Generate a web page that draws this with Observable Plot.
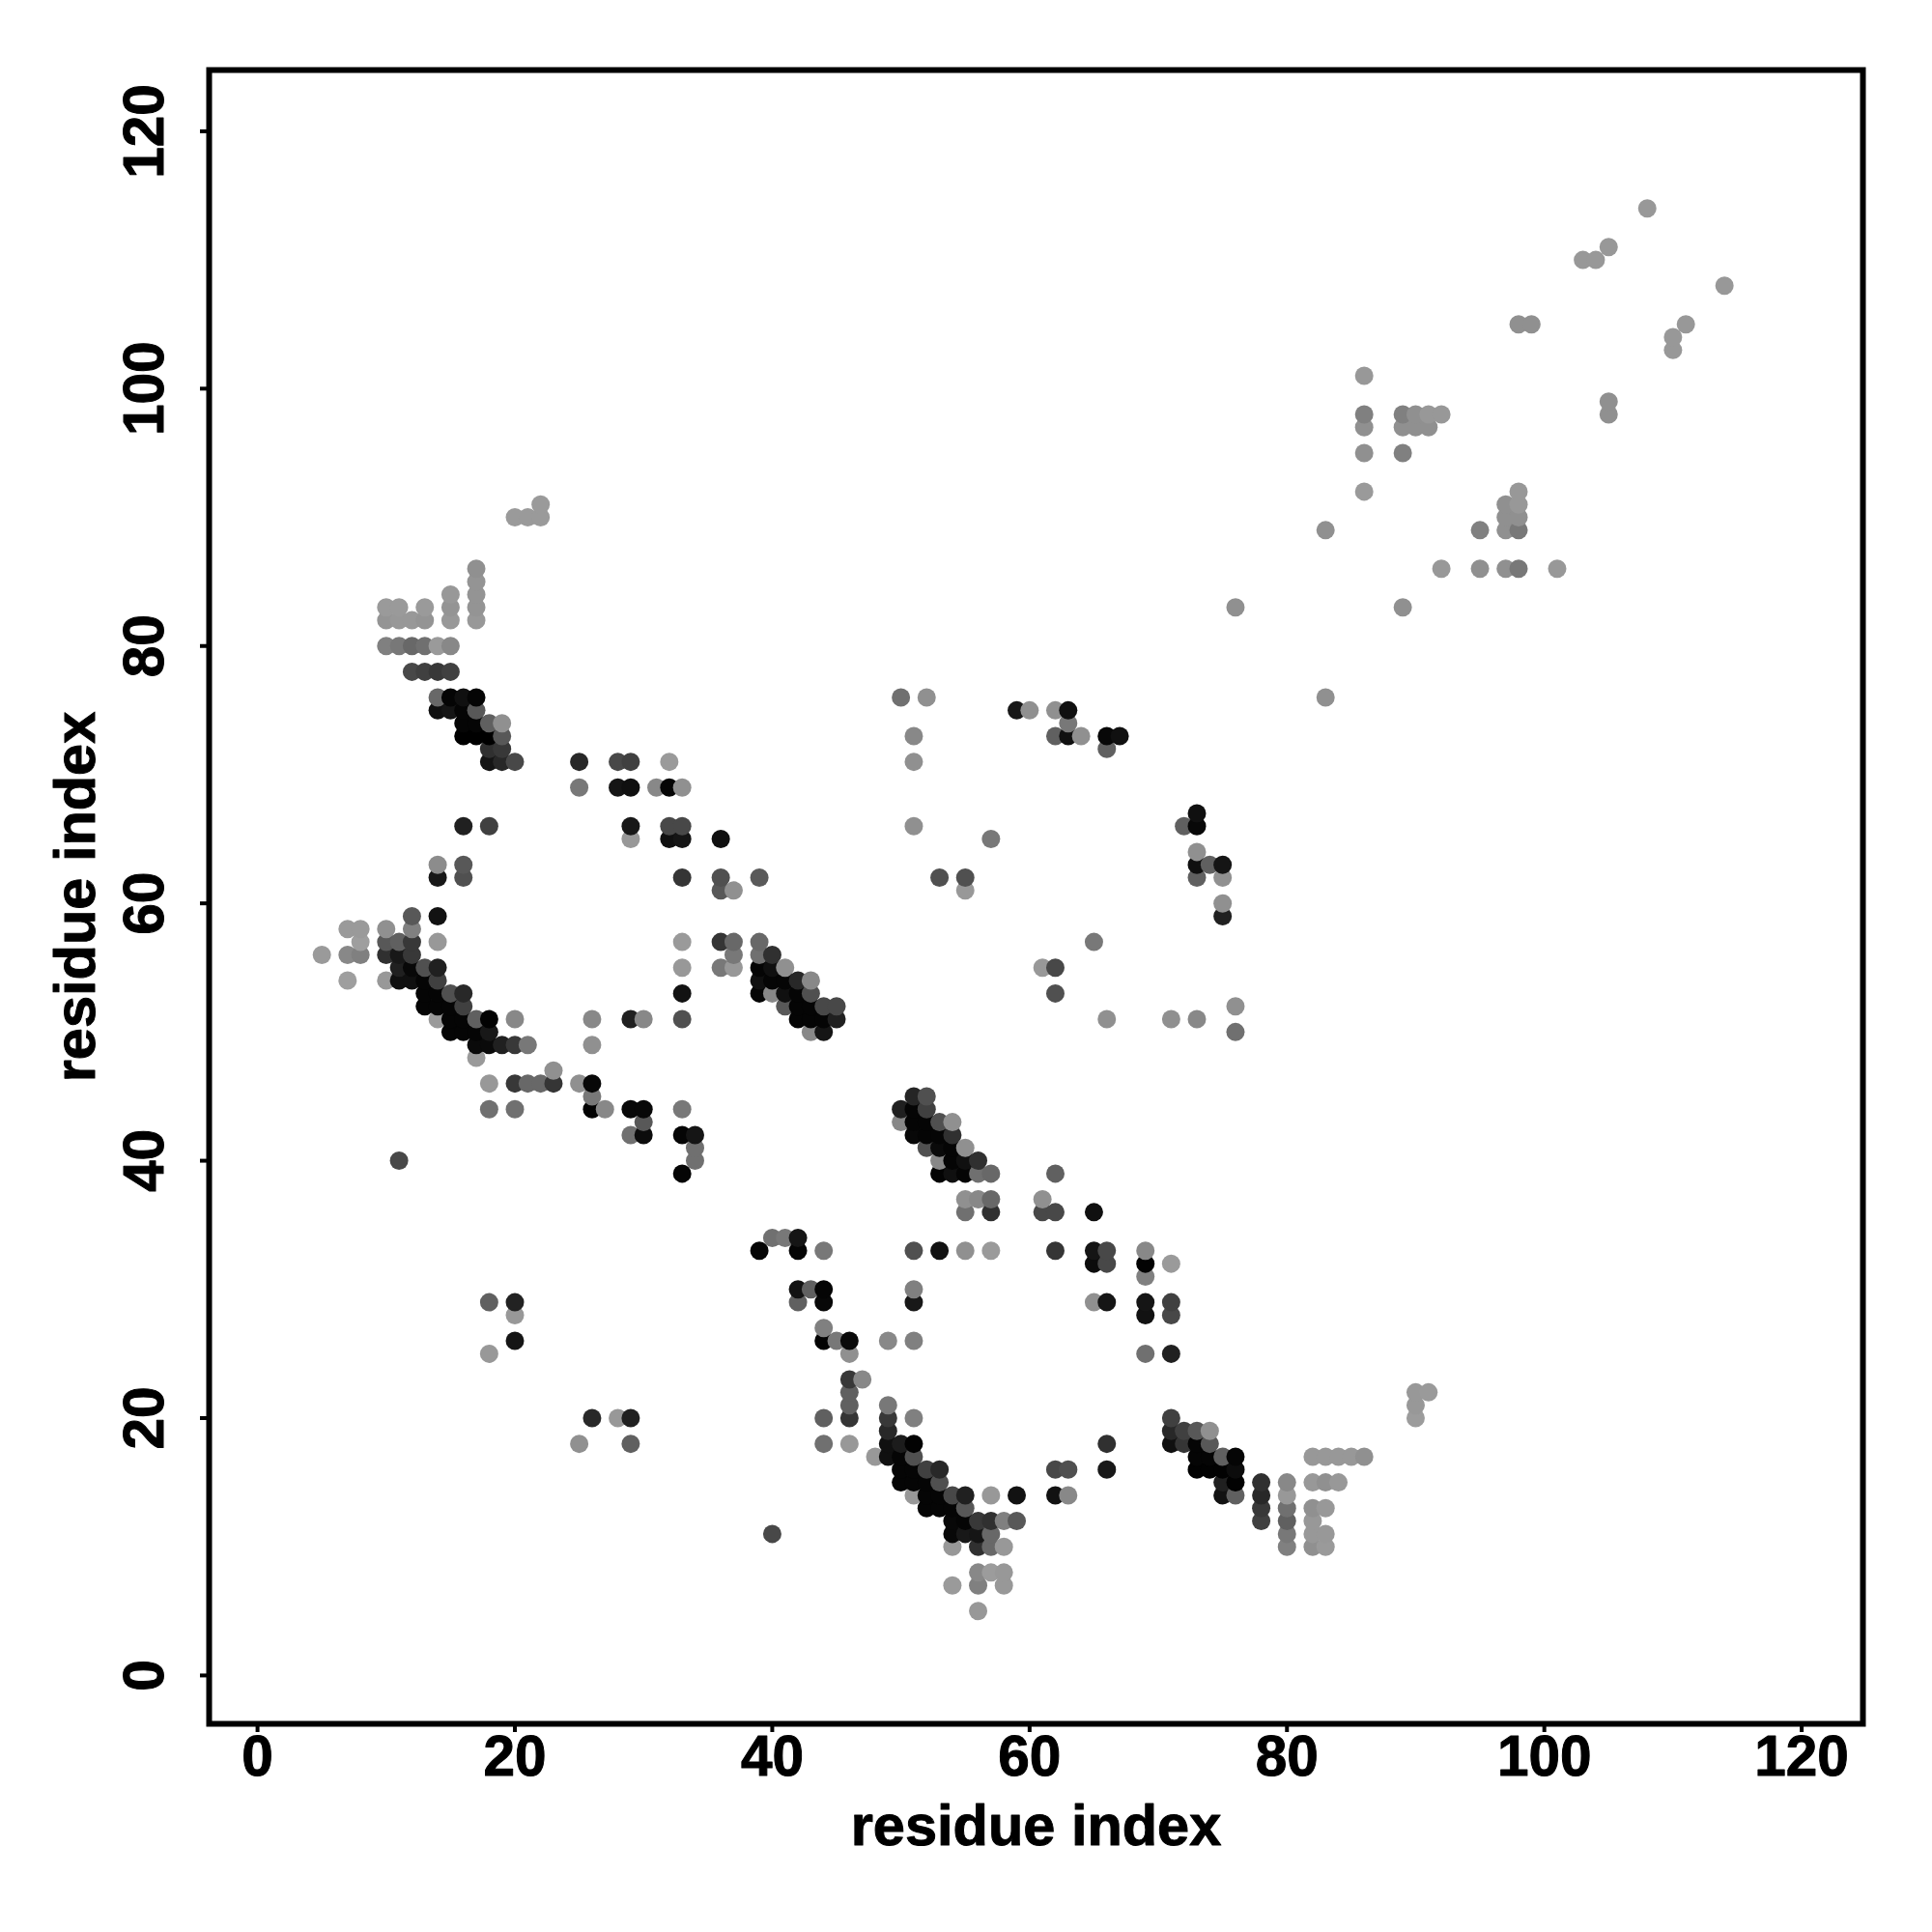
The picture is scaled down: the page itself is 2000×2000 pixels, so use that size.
<!DOCTYPE html>
<html>
<head>
<meta charset="utf-8">
<script src="https://cdn.jsdelivr.net/npm/d3@7"></script>
<script src="https://cdn.jsdelivr.net/npm/@observablehq/plot@0.6"></script>
<style>
html,body{margin:0;padding:0;background:#fff}
svg{display:block;max-width:none}
</style>
</head>
<body>
<div id="chart"></div>
<script>
// contacts as [residue i, residue j, grey level 0-255]
const upperContacts = [
[108,114,0x98],[105,111,0x98],[103,110,0x98],[104,110,0x98],[114,108,0x98],[98,105,0x90],[99,105,0x90],[111,105,0x98],[110,104,0x98],[110,103,0x98],
[86,101,0x98],[105,99,0x90],[105,98,0x90],[86,98,0x80],[89,98,0x80],[90,98,0x90],[91,98,0x98],[92,98,0x98],
[86,97,0x90],[89,97,0x90],[90,97,0x90],[91,97,0x90],[86,95,0x90],[89,95,0x80],[86,92,0x9a],[98,92,0x98],[97,91,0x90],[98,91,0x98],[97,90,0x90],[98,90,0x90],
[83,89,0x90],[95,89,0x80],[97,89,0x90],[98,89,0x78],[92,86,0x98],[95,86,0x90],[97,86,0x90],[98,86,0x78],[101,86,0x98],[89,83,0x90],[76,83,0x90],[83,76,0x90],
[20,90,0x9a],[21,90,0x9a],[22,90,0x9a],[22,91,0x9a],
[17,86,0x90],[17,85,0x94],[17,84,0x94],[17,83,0x94],[17,82,0x98],[15,84,0x98],[15,83,0x94],[15,82,0x98],
[10,83,0x9a],[11,83,0x9a],[13,83,0x9a],[10,82,0x94],[11,82,0x98],[12,82,0x98],[13,82,0x94],
[10,80,0x80],[11,80,0x78],[12,80,0x68],[13,80,0x70],[14,80,0x9a],[15,80,0x88],
[12,78,0x48],[13,78,0x40],[14,78,0x38],[15,78,0x40],
[14,76,0x68],[15,76,0x05],[16,76,0x10],[17,76,0x05],[50,76,0x70],[52,76,0x90],
[14,75,0x10],[15,75,0x15],[16,75,0x05],[17,75,0x58],[59,75,0x18],[60,75,0x90],[62,75,0x90],[63,75,0x10],
[16,74,0x05],[17,74,0x05],[18,74,0x60],[19,74,0x90],[63,74,0x78],
[16,73,0x00],[17,73,0x00],[18,73,0x00],[19,73,0x58],[51,73,0x88],[62,73,0x60],[63,73,0x10],[64,73,0x90],[66,73,0x08],[67,73,0x10],
[18,72,0x30],[19,72,0x38],[66,72,0x60],
[18,71,0x15],[19,71,0x28],[20,71,0x48],[25,71,0x28],[28,71,0x48],[29,71,0x40],[32,71,0x9a],[51,71,0x90]
];
const middleContacts = [
[25,69,0x78],[28,69,0x15],[29,69,0x10],[31,69,0x88],[32,69,0x05],[33,69,0x90],
[73,67,0x10],[16,66,0x20],[18,66,0x40],[29,66,0x18],[32,66,0x48],[33,66,0x48],[51,66,0x90],[72,66,0x60],[73,66,0x08],
[29,65,0x98],[32,65,0x10],[33,65,0x15],[36,65,0x10],[57,65,0x78],[73,64,0x90],
[14,63,0x8c],[16,63,0x58],[73,63,0x10],[74,63,0x60],[75,63,0x15],
[14,62,0x18],[16,62,0x50],[33,62,0x35],[36,62,0x50],[39,62,0x5a],[53,62,0x50],[55,62,0x50],[73,62,0x60],[75,62,0x90],
[36,61,0x58],[37,61,0x90],[55,61,0x98],[75,60,0x90],[12,59,0x58],[14,59,0x12],[75,59,0x20],
[7,58,0x9a],[8,58,0x9a],[10,58,0x90],[12,58,0x80],
[8,57,0x9e],[10,57,0x58],[11,57,0x60],[12,57,0x38],[14,57,0x98],[33,57,0x9a],[36,57,0x35],[37,57,0x68],[39,57,0x68],[65,57,0x78],
[5,56,0x9a],[7,56,0x88],[8,56,0x80],[10,56,0x30],[11,56,0x18],[12,56,0x38],[37,56,0x78],[39,56,0x70],[40,56,0x30],
[11,55,0x20],[12,55,0x08],[13,55,0x50],[14,55,0x20],[33,55,0x98],[36,55,0x78],[37,55,0x98],[39,55,0x05],[40,55,0x10],[41,55,0x90],[61,55,0x98],[62,55,0x48],
[7,54,0x9e],[10,54,0x98],[11,54,0x10],[12,54,0x10],[13,54,0x05],[14,54,0x40],[39,54,0x10],[40,54,0x05],[41,54,0x05],[42,54,0x28],[43,54,0x88],
[13,53,0x05],[14,53,0x05],[15,53,0x50],[16,53,0x28],[33,53,0x12],[39,53,0x05],[40,53,0x88],[41,53,0x10],[42,53,0x05],[43,53,0x50],[62,53,0x50],
[13,52,0x05],[14,52,0x05],[15,52,0x05],[16,52,0x40],[41,52,0x58],[42,52,0x05],[43,52,0x05],[44,52,0x48],[45,52,0x48],[76,52,0x90],
[14,51,0x9a],[15,51,0x05],[16,51,0x05],[17,51,0x60],[18,51,0x02],[20,51,0x88],[26,51,0x88],[29,51,0x20],[30,51,0x88],[33,51,0x50],[42,51,0x05],[43,51,0x05],[44,51,0x05],[45,51,0x20],[66,51,0x90],[71,51,0x90],[73,51,0x88],
[15,50,0x05],[16,50,0x05],[17,50,0x05],[18,50,0x18],[43,50,0x88],[44,50,0x15],[76,50,0x70],
[17,49,0x0a],[18,49,0x0a],[19,49,0x20],[20,49,0x38],[21,49,0x78],[26,49,0x90],[17,48,0x9a],[23,47,0x90],
[18,46,0x98],[20,46,0x38],[21,46,0x68],[22,46,0x68],[23,46,0x35],[25,46,0x90],[26,46,0x08],
[26,45,0x78],[51,45,0x25],[52,45,0x50],
[18,44,0x70],[20,44,0x70],[26,44,0x02],[27,44,0x88],[29,44,0x08],[30,44,0x08],[33,44,0x78],[50,44,0x20],[51,44,0x05],[52,44,0x40],
[30,43,0x58],[50,43,0x88],[51,43,0x05],[52,43,0x05],[53,43,0x50],[54,43,0x90],
[29,42,0x70],[30,42,0x0c],[33,42,0x05],[34,42,0x15],[51,42,0x08],[52,42,0x05],[53,42,0x05],[54,42,0x30],
[34,41,0x70],[52,41,0x50],[53,41,0x0a],[54,41,0x05],[55,41,0x90],
[11,40,0x48],[34,40,0x70],[53,40,0x88],[54,40,0x05],[55,40,0x10],[56,40,0x30],
[33,39,0x05],[53,39,0x03],[54,39,0x10],[55,39,0x05],[56,39,0x70],[57,39,0x68],[62,39,0x60]
];
const lowerContacts = [
[55,37,0x90],[56,37,0x88],[57,37,0x68],[61,37,0x90],[55,36,0x70],[57,36,0x30],[61,36,0x48],[62,36,0x48],[65,36,0x10],
[40,34,0x70],[41,34,0x78],[42,34,0x15],
[39,33,0x05],[42,33,0x05],[44,33,0x78],[51,33,0x50],[53,33,0x12],[55,33,0x90],[57,33,0x9a],[62,33,0x35],[65,33,0x15],[66,33,0x48],[69,33,0x88],
[65,32,0x0c],[66,32,0x48],[69,32,0x03],[71,32,0x9a],[69,31,0x80],
[42,30,0x12],[43,30,0x60],[44,30,0x05],[51,30,0x80],
[18,29,0x60],[20,29,0x22],[42,29,0x60],[44,29,0x08],[51,29,0x18],[65,29,0x90],[66,29,0x15],[69,29,0x15],[71,29,0x40],
[20,28,0x98],[69,28,0x12],[71,28,0x48],[44,27,0x80],
[20,26,0x15],[44,26,0x02],[45,26,0x78],[46,26,0x0a],[49,26,0x88],[51,26,0x80],
[18,25,0x98],[46,25,0x90],[69,25,0x70],[71,25,0x20],
[46,23,0x38],[47,23,0x88],[46,22,0x60],[90,22,0x98],[91,22,0x9a],[46,21,0x60],[49,21,0x78],[90,21,0x98],
[26,20,0x28],[28,20,0x98],[29,20,0x20],[44,20,0x60],[46,20,0x35],[49,20,0x38],[51,20,0x80],[71,20,0x40],[90,20,0x9c],
[49,19,0x28],[71,19,0x28],[72,19,0x40],[73,19,0x58],[74,19,0x90],
[25,18,0x90],[29,18,0x60],[44,18,0x70],[46,18,0x98],[49,18,0x10],[50,18,0x1c],[51,18,0x02],[66,18,0x30],[71,18,0x10],[72,18,0x35],[73,18,0x05],[74,18,0x58],
[48,17,0x98],[49,17,0x10],[50,17,0x05],[51,17,0x50],[73,17,0x05],[74,17,0x05],[75,17,0x60],[76,17,0x05],[82,17,0x98],[83,17,0x98],[84,17,0x98],[85,17,0x98],[86,17,0x90],
[50,16,0x05],[51,16,0x05],[52,16,0x40],[53,16,0x28],[62,16,0x48],[63,16,0x50],[66,16,0x18],[73,16,0x02],[74,16,0x02],[75,16,0x02],[76,16,0x0c],
[50,15,0x05],[51,15,0x05],[52,15,0x05],[53,15,0x50],[75,15,0x20],[76,15,0x02],[78,15,0x30],[80,15,0x88],[82,15,0x98],[83,15,0x90],[84,15,0x98],
[51,14,0x98],[52,14,0x05],[53,14,0x05],[54,14,0x48],[55,14,0x20],[57,14,0x98],[59,14,0x12],[62,14,0x12],[63,14,0x88],[75,14,0x12],[76,14,0x60],[78,14,0x28],[80,14,0x98],
[52,13,0x05],[53,13,0x05],[54,13,0x05],[55,13,0x58],[78,13,0x38],[80,13,0x70],[82,13,0x90],[83,13,0x98],
[54,12,0x08],[55,12,0x05],[56,12,0x38],[57,12,0x30],[58,12,0x80],[59,12,0x58],[78,12,0x40],[80,12,0x60],[82,12,0x98],
[40,11,0x48],[54,11,0x08],[55,11,0x18],[56,11,0x15],[57,11,0x68],[80,11,0x78],[82,11,0x98],[83,11,0x98],
[54,10,0x98],[56,10,0x30],[57,10,0x68],[58,10,0x98],[80,10,0x80],[82,10,0x90],[83,10,0x9a],
[56,8,0x88],[57,8,0x9c],[58,8,0x98],[54,7,0x9a],[56,7,0x80],[58,7,0x98],[56,5,0x98]
];
const tickValues = [0,20,40,60,80,100,120];
const axisTitle = "residue index";
const domain = [-3.76,124.76];

const contacts = d3.sort([...upperContacts,...middleContacts,...lowerContacts], d=>d[0], d=>d[1]);
const font = "'Liberation Sans', Arial, sans-serif";

const chart = Plot.plot({
  width:2000, height:2000,
  marginLeft:216, marginRight:72, marginTop:72, marginBottom:216,
  style:{fontFamily:font, background:"#fff", color:"#000"},
  x:{domain, axis:null},
  y:{domain, axis:null},
  color:{type:"linear", domain:[0,255], range:["#000","#fff"]},
  marks:[
    Plot.dot(contacts,{x:d=>d[0], y:d=>d[1], r:9.5, fill:d=>d[2], stroke:null}),
    Plot.frame({stroke:"#000", strokeWidth:6}),
    Plot.axisX(tickValues,{anchor:"bottom", tickSize:9, strokeWidth:4, tickPadding:3, fontSize:58.5, fontWeight:"bold", label:null, lineAnchor:"top", textStroke:"#000", textStrokeWidth:1}),
    Plot.axisY(tickValues,{anchor:"left", tickSize:9, strokeWidth:4, tickPadding:39, fontSize:58.5, fontWeight:"bold", label:null, tickRotate:-90, textAnchor:"middle", textStroke:"#000", textStrokeWidth:1}),
    Plot.text([axisTitle],{frameAnchor:"bottom", dy:106, fontSize:59.5, fontWeight:"bold", lineAnchor:"middle", stroke:"#000", strokeWidth:1, fill:"#000"}),
    Plot.text([axisTitle],{frameAnchor:"left", dx:-138, rotate:-90, fontSize:59.5, fontWeight:"bold", lineAnchor:"middle", textAnchor:"middle", stroke:"#000", strokeWidth:1, fill:"#000"})
  ]
});
document.getElementById("chart").append(chart);
</script>
</body>
</html>
